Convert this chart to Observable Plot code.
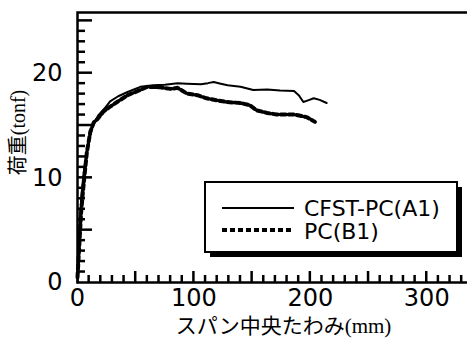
<!DOCTYPE html>
<html><head><meta charset="utf-8">
<script src="https://cdn.jsdelivr.net/npm/d3@7"></script>
<script src="https://cdn.jsdelivr.net/npm/@observablehq/plot@0.6"></script>
<style>
body{margin:0;background:#fff}
#chart{position:relative;width:467px;height:344px;overflow:hidden}
</style>
</head><body><div id="chart"></div>
<script>
// ---- data ----
const seriesNames = ["CFST-PC(A1)", "PC(B1)"];
const a1Deflection = [0,1,2,3.5,5,7,10,13,18,23,28,35,43,54,65,75,86,94,106,112,117,123,129,140,151,163,174,186,190,194,198,203,208,214];
const a1Load       = [0,3,6,8.5,10.2,11.8,13.6,14.9,16.0,16.6,17.3,17.8,18.2,18.7,18.85,18.9,19.05,19.0,18.95,19.05,19.15,19.0,18.85,18.7,18.4,18.45,18.35,18.3,17.9,17.25,17.4,17.6,17.45,17.15];
const b1Deflection = [0,0.5,1,2,3,4.5,6,8,11,14,17,22,28,34,43,54,60,71,80,86,94,103,111,120,128,140,148,154,163,171,186,197,204];
const b1Load       = [0.5,1.5,2.5,4.5,6.5,8.5,10.2,12.4,14.4,15.3,15.6,16.3,16.8,17.25,17.9,18.4,18.7,18.65,18.5,18.6,18.05,17.9,17.6,17.4,17.25,17.15,16.95,16.45,16.2,16.05,16.05,15.8,15.35];
const xTickLabels = [0, 100, 200, 300];
const yTickLabels = [0, 10, 20];
const xTitle = ["スパン中央たわみ(mm)"];
const yTitle = ["荷重(tonf)"];

const a1 = a1Deflection.map((x, i) => ({x, y: a1Load[i]}));
const b1 = b1Deflection.map((x, i) => ({x, y: b1Load[i]}));
const yMajor = d3.range(5, 26, 5);
const yMinor = d3.range(1, 26).filter(v => v % 5 !== 0);
const xMajor = d3.range(50, 335, 50);
const xMinor = d3.range(10, 335, 10).filter(v => v % 50 !== 0);

const tickFont = "DejaVu Sans, sans-serif";
const titleFont = "Liberation Serif, Noto Sans CJK JP, serif";

const chart = Plot.plot({
  width: 467, height: 344,
  marginLeft: 77, marginRight: 0, marginTop: 12, marginBottom: 62,
  style: {background: "#fff", color: "#000", fontFamily: tickFont},
  x: {domain: [0, 335]},
  y: {domain: [0, 25.8]},
  marks: [
    Plot.frame({stroke: "#000", fill: "none", strokeWidth: 2.5, insetRight: -4}),
    Plot.line(a1, {x: "x", y: "y", stroke: "#000", strokeWidth: 2}),
    Plot.line(b1, {x: "x", y: "y", stroke: "#000", strokeWidth: 4, strokeDasharray: "5,3"}),
    Plot.axisX(xTickLabels, {tickSize: 0, tickPadding: 6, fontSize: 24, label: null, fontFamily: tickFont}),
    Plot.axisY(yTickLabels, {tickSize: 0, tickPadding: 15, fontSize: 24, label: null, fontFamily: tickFont}),
    Plot.text(xTitle, {text: d => d, frameAnchor: "bottom", textAnchor: "middle", dx: 11, dy: 50, fontSize: 21, fontFamily: titleFont, fill: "#000"}),
    Plot.text(yTitle, {text: d => d, frameAnchor: "left", textAnchor: "middle", dx: -59, dy: -15, rotate: -90, fontSize: 20, fontFamily: titleFont, fill: "#000"})
  ]
});
document.getElementById("chart").appendChild(chart);
const svg = d3.select(chart);

// ---- legend box with drop shadow ----
const lg = svg.append("g").attr("text-anchor", "start");
lg.append("rect").attr("x", 210).attr("y", 187).attr("width", 252).attr("height", 70).attr("fill", "#000");
lg.append("rect").attr("x", 205).attr("y", 182).attr("width", 252).attr("height", 70)
  .attr("fill", "#fff").attr("stroke", "#000").attr("stroke-width", 2);
const rows = [
  {name: seriesNames[0], y: 208, w: 2, dash: null, base: 216},
  {name: seriesNames[1], y: 230, w: 4, dash: "5,3", base: 239}
];
rows.forEach(r => {
  lg.append("line").attr("x1", 222).attr("x2", 294).attr("y1", r.y).attr("y2", r.y)
    .attr("stroke", "#000").attr("stroke-width", r.w).attr("stroke-dasharray", r.dash);
  lg.append("text").attr("x", 304).attr("y", r.base).attr("text-anchor", "start").text(r.name)
    .attr("font-family", tickFont).attr("font-size", 22).attr("fill", "#000");
});

// ---- inward-pointing ticks, placed through Plot's own scales (drawn last) ----
const sx = chart.scale("x"), sy = chart.scale("y");
const tk = svg.append("g");
const x0 = sx.apply(0), y0 = sy.apply(0);
function tick(x1, y1, x2, y2) {
  tk.append("line").attr("x1", x1).attr("y1", y1).attr("x2", x2).attr("y2", y2)
    .attr("stroke", "black").attr("stroke-width", 2.5).attr("stroke-linecap", "butt");
}
yMajor.forEach(v => tick(x0, sy.apply(v), x0 + 15, sy.apply(v)));
yMinor.forEach(v => tick(x0, sy.apply(v), x0 + 8, sy.apply(v)));
xMajor.forEach(v => tick(sx.apply(v), y0, sx.apply(v), y0 - 11));
xMinor.forEach(v => tick(sx.apply(v), y0, sx.apply(v), y0 - 7));
</script>
</body></html>
